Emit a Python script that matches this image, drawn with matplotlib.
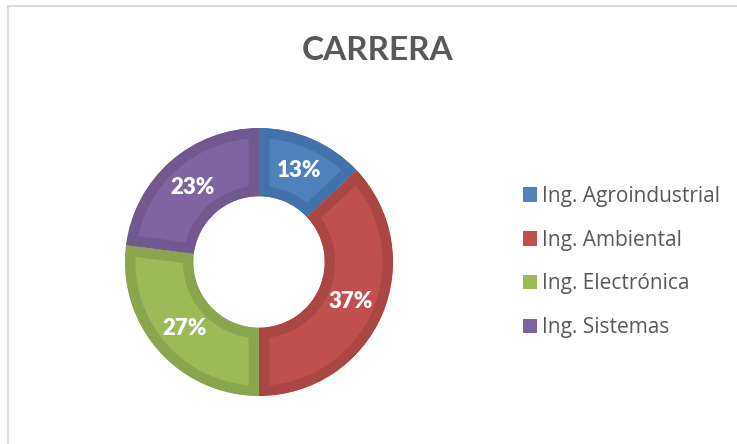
import numpy as np
import matplotlib.pyplot as plt
from matplotlib.patches import Patch
from matplotlib.lines import Line2D

carreras = ['Ing. Agroindustrial', 'Ing. Ambiental', 'Ing. Electrónica', 'Ing. Sistemas']
porcentajes = [13, 37, 27, 23]
colores = ['#4F81BD', '#C0504D', '#9BBB59', '#8064A2']
bordes = ['#4372AA', '#AA4643', '#89A54E', '#71588F']

plt.rcParams['font.family'] = ['Lato', 'DejaVu Sans']

fig = plt.figure(figsize=(7.37, 4.44), dpi=100)
W, H = 737, 444

# chart border (only top and left visible)
fig.add_artist(Line2D([7.5 / W, 1], [1 - 6 / H, 1 - 6 / H], color='#d9d9d9', lw=1.5))
fig.add_artist(Line2D([7.5 / W, 7.5 / W], [0, 1 - 6 / H], color='#d9d9d9', lw=1.5))

fig.text(378 / W, 1 - 51 / H, 'CARRERA', ha='center', va='center',
         fontsize=24, fontweight='bold', color='#595959')

cx, cy, r = 259, 262, 134
ax = fig.add_axes([(cx - r) / W, (H - cy - r) / H, 2 * r / W, 2 * r / H])
wedges, _ = ax.pie(porcentajes, startangle=90, counterclock=False, radius=1,
                   colors=colores, wedgeprops=dict(width=0.51))
for w, ec in zip(wedges, bordes):
    w.set_edgecolor(ec)
    w.set_linewidth(15)
    w.set_clip_on(True)
    w.set_clip_path(w)

ang = 90.0
for p in porcentajes:
    mid = np.deg2rad(ang - p * 3.6 / 2)
    ax.text(0.745 * np.cos(mid), 0.745 * np.sin(mid), f'{p}%', ha='center', va='center',
            color='white', fontsize=16, fontweight='heavy')
    ang -= p * 3.6
ax.set_xlim(-1, 1)
ax.set_ylim(-1, 1)
ax.set_aspect('equal')
ax.axis('off')

handles = [Patch(facecolor=c, edgecolor='none') for c in colores]
fig.legend(handles, carreras, loc='center left', bbox_to_anchor=(504 / W, 1 - 262 / H),
           frameon=False, labelcolor='#595959', handlelength=0.7,
           handleheight=0.7, handletextpad=0.2, labelspacing=1.1,
           prop={'family': 'Open Sans', 'size': 15})

fig.savefig('out.png', dpi=100)
